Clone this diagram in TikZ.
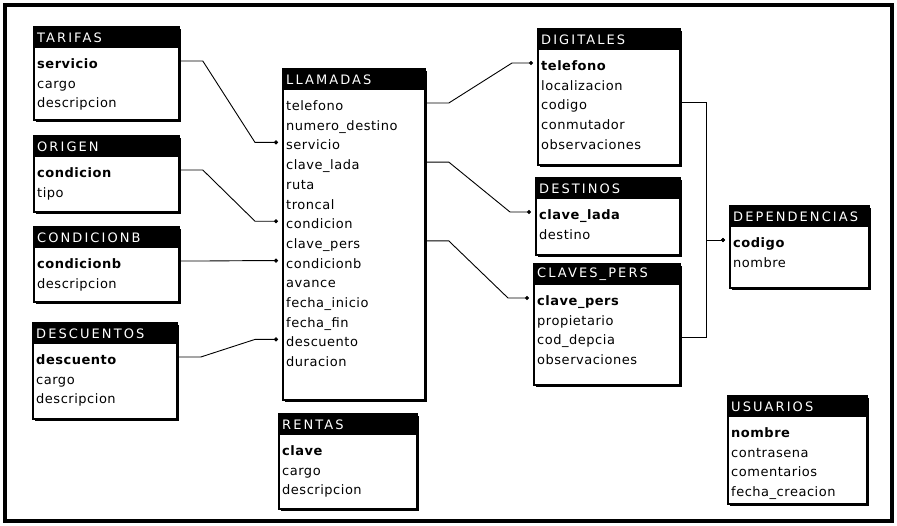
\documentclass[tikz,border=0pt]{standalone}
\usepackage{fontspec}
\setmainfont{DejaVu Sans}
\newfontfamily\fieldfont[LetterSpace=4]{DejaVu Sans}
\newfontfamily\titlefont[LetterSpace=16]{DejaVu Sans}
\usetikzlibrary{arrows.meta,calc}

\tikzset{
  frame/.style={draw=black, line width=3.2pt},
  tbody/.style={draw=black, line width=1.8pt, fill=white, inner sep=0pt, anchor=north west},
  tbar/.style={fill=black, inner sep=0pt, minimum height=22pt, anchor=north west},
  tname/.style={text=white, font=\titlefont\fontsize{13}{15}\selectfont, inner sep=0pt, anchor=west},
  field/.style={font=\fieldfont\fontsize{13}{15}\selectfont, inner sep=0pt,
    text height=15pt, text depth=0pt, anchor=base west},
  rel/.style={draw=black, line width=0.9pt, -{Circle[length=4pt]}, shorten >=4pt},
}

% \dbtable{name}{x}{y}{width}{height}{title}{fields}
\newcommand\dbtable[7]{%
  \fill[black] ({#2+2.8},{#3+2.8}) rectangle ({#2+#4+2.8},{#3+#5+2.8});
  \node[tbody, minimum width=#4pt, minimum height=#5pt] (#1) at (#2,#3) {};
  \node[tbar, minimum width=#4pt] (#1-bar) at (#2,#3) {};
  \node[tname] (#1-name) at ($(#1-bar.west)+(4,0.5)$) {#6};
  \foreach \f [count=\i] in {#7} {
    \node[field] (#1\i) at ({#2+4},{#3+42.5+19.7*(\i-1)}) {\f};
  }%
}

\begin{document}
\begin{tikzpicture}[x=1pt, y=-1pt]
\useasboundingbox (0,0) rectangle (897,525);
\fill[white] (0,0) rectangle (897,525);
\draw[frame] (5,5) rectangle (892,521);

% tables on the left
\dbtable{tarifas}{33}{26}{145}{93}{TARIFAS}{\textbf{servicio},cargo,descripcion}
\dbtable{origen}{33}{135}{145}{76}{ORIGEN}{\textbf{condicion},tipo}
\dbtable{condicionb}{33}{226}{145}{75}{CONDICIONB}{\textbf{condicionb},descripcion}
\dbtable{descuentos}{32}{322}{144}{96}{DESCUENTOS}{\textbf{descuento},cargo,descripcion}

% central tables
\dbtable{llamadas}{282}{68}{142}{331}{LLAMADAS}{telefono,numero\_destino,servicio,clave\_lada,ruta,troncal,condicion,clave\_pers,condicionb,avance,fecha\_inicio,fecha\_fin,descuento,duracion}
\dbtable{rentas}{278}{413}{138}{95}{RENTAS}{\textbf{clave},cargo,descripcion}

% tables on the right
\dbtable{digitales}{537}{28}{142}{136}{DIGITALES}{\textbf{telefono},localizacion,codigo,conmutador,observaciones}
\dbtable{destinos}{535}{177}{144}{77}{DESTINOS}{\textbf{clave\_lada},destino}
\dbtable{claves}{533}{263}{146}{121}{CLAVES\_PERS}{\textbf{clave\_pers},propietario,cod\_depcia,observaciones}
\dbtable{dependencias}{729}{205}{139}{82}{DEPENDENCIAS}{\textbf{codigo},nombre}
\dbtable{usuarios}{727}{395}{139}{108}{USUARIOS}{\textbf{nombre},contrasena,comentarios,fecha\_creacion}

% relationships into LLAMADAS
\draw[rel] (tarifas.east |- tarifas1) -- ++(23,0) -- ($(llamadas.west |- llamadas3)+(-27,0)$) -- (llamadas.west |- llamadas3);
\draw[rel] (origen.east |- origen1) -- ++(23,0) -- ($(llamadas.west |- llamadas7)+(-27,0)$) -- (llamadas.west |- llamadas7);
\draw[rel] (condicionb.east |- condicionb1) -- ++(23,0) -- ($(llamadas.west |- llamadas9)+(-27,0)$) -- (llamadas.west |- llamadas9);
\draw[rel] (descuentos.east |- descuentos1) -- ++(23,0) -- ($(llamadas.west |- llamadas13)+(-27,0)$) -- (llamadas.west |- llamadas13);

% relationships out of LLAMADAS
\draw[rel] (llamadas.east |- llamadas1) -- ++(23,0) -- ($(digitales.west |- digitales1)+(-25,0)$) -- (digitales.west |- digitales1);
\draw[rel] (llamadas.east |- llamadas4) -- ++(23,0) -- ($(destinos.west |- destinos1)+(-25,0)$) -- (destinos.west |- destinos1);
\draw[rel] (llamadas.east |- llamadas8) -- ++(23,0) -- ($(claves.west |- claves1)+(-25,0)$) -- (claves.west |- claves1);

% relationships into DEPENDENCIAS
\draw[rel] (digitales.east |- digitales3) -- ++(26,0) |- (dependencias.west |- dependencias1);
\draw[rel] (claves.east |- claves3) -- ++(26,0) |- (dependencias.west |- dependencias1);
\end{tikzpicture}
\end{document}
